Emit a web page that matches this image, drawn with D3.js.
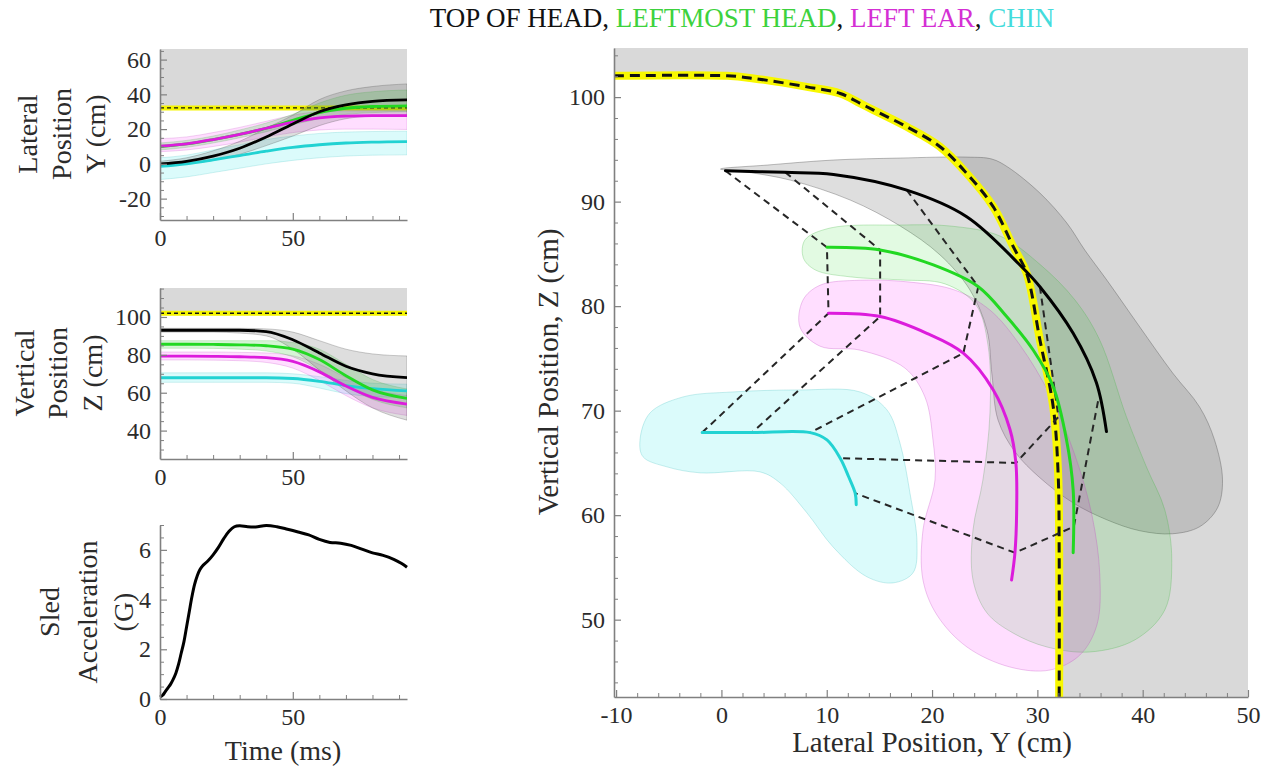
<!DOCTYPE html>
<html><head><meta charset="utf-8">
<script src="https://cdn.jsdelivr.net/npm/d3@7"></script>
<style>
body{margin:0;background:#fff;}
svg{display:block;}
</style></head><body>
<svg id="chart" width="1270" height="776" font-family="Liberation Serif"></svg>
<script>
// ---------------- DATA ----------------
const titleParts = ["TOP OF HEAD", "LEFTMOST HEAD", "LEFT EAR", "CHIN"];
const titleColors = ["#111111", "#3dd23d", "#d42fd4", "#44dcdc"];

// Time series (ms)
const tGrid = [0, 10, 20, 30, 40, 50, 60, 70, 80, 93];
// Lateral position Y (cm)
const blackY   = [0, 1.5, 4.5, 9, 15.5, 23, 30, 34, 36, 36.8];
const blackYlo = [-1, 0, 2, 5.5, 10.5, 16, 22, 26, 27.5, 28];
const blackYhi = [1.5, 3.5, 7.5, 13, 20.5, 28, 37, 42, 44.5, 46];
const greenY   = [10, 11.5, 14, 17, 20.5, 25, 29.5, 32, 33, 33.4];
const greenYlo = [8, 9.5, 12, 15, 18.5, 22.5, 26, 28.5, 29.5, 30];
const greenYhi = [12, 13.5, 16, 19.5, 23.5, 28.5, 35, 39.5, 41.5, 42.5];
const magY     = [10.2, 11.5, 14, 17, 20.5, 24, 26.5, 27.5, 27.8, 27.8];
const magYlo   = [7, 8, 10, 12.5, 15.5, 18, 19.5, 20, 20, 19.8];
const magYhi   = [14.5, 15.5, 18, 21, 24.5, 28, 30, 30.5, 30.5, 30.5];
const cyanY    = [-1.5, 0, 2.3, 4.8, 7.3, 9.5, 11, 12, 12.5, 12.8];
const cyanYlo  = [-9, -7.5, -5, -2.5, 0, 2, 3.5, 4.5, 5, 5.2];
const cyanYhi  = [3.5, 5, 8, 11, 14, 16, 17.5, 18.3, 18.6, 18.8];
// Vertical position Z (cm)
const blackZ   = [93, 93, 93, 93, 92.3, 88, 81, 74, 70, 68];
const blackZlo = [92, 92, 92, 91.5, 90, 83, 72, 61, 52, 45.5];
const blackZhi = [94, 94, 94, 94, 93.7, 92, 87.5, 83, 80.5, 79.4];
const greenZ   = [85.6, 85.6, 85.5, 85.3, 84.8, 83, 77.5, 69, 61.5, 57];
const greenZlo = [83.5, 83.5, 83.4, 83, 82, 79, 72, 63.5, 56.5, 52];
const greenZhi = [87.5, 87.5, 87.5, 87.5, 87.5, 86.5, 83, 75, 67, 62];
const magZ     = [79.3, 79.3, 79.2, 79, 78.5, 76.5, 71, 63.5, 57.5, 54];
const magZlo   = [77.3, 77.3, 77.2, 76.9, 76, 73, 66.5, 58.5, 52, 48];
const magZhi   = [81.5, 81.5, 81.5, 81.3, 81, 79.5, 75, 68, 62, 58.5];
const cyanZ    = [67.9, 67.9, 67.9, 67.9, 67.9, 67.5, 66, 63.8, 62.2, 61];
const cyanZlo  = [65.5, 65.5, 65.5, 65.5, 65.5, 65, 62.5, 59.5, 58, 57.5];
const cyanZhi  = [70.5, 70.5, 70.5, 70.5, 70.5, 70, 68.5, 66.5, 65, 64.5];
// Sled acceleration (G)
const accT = [0,1,2,3,4,5,6,7,8,9,10,11,12,13,14,15,16,18,20,22,24,26,28,30,33,36,40,44,48,52,56,60,64,68,72,76,80,84,88,91,93];
const accG = [0.08,0.15,0.3,0.45,0.6,0.8,1.05,1.4,1.85,2.3,2.9,3.5,4.1,4.6,4.95,5.2,5.35,5.55,5.8,6.1,6.45,6.75,6.93,6.97,6.93,6.92,6.98,6.93,6.83,6.72,6.6,6.42,6.3,6.27,6.18,6.03,5.88,5.78,5.62,5.45,5.3];
const wallLateral = 32.2;   // cm
const wallVertical = 102;   // cm

// Main plot trajectories (Y lateral, Z vertical)
const trajBlackY = [0.38, 6.07, 10.64, 17.6, 23.29, 28.34, 30.24, 33.4, 35.6, 36.56];
const trajBlackZ = [92.95, 92.8, 92.6, 91.1, 88.56, 83.94, 81.86, 77.4, 72.7, 68.0];
const trajGreenY = [10.02, 15.07, 20.12, 24.39, 27.08, 29.6, 31.5, 32.77, 33.4, 33.4];
const trajGreenZ = [85.63, 85.37, 83.94, 81.86, 79.0, 75.8, 72.3, 67.2, 62.4, 56.4];
const trajMagY = [10.17, 15.07, 19.5, 22.97, 25.8, 27.4, 27.96, 28.03, 27.87, 27.55];
const trajMagZ = [79.32, 79.0, 77.4, 75.5, 72.0, 68.2, 65.0, 60.2, 56.4, 53.8];
const trajCyanY = [-1.83, 2.91, 8.44, 10.02, 11.28, 12.07, 12.7, 12.8];
const trajCyanZ = [67.9, 67.9, 67.9, 67.2, 65.45, 63.7, 62.1, 61.0];

// Connectors at five instants: black -> green -> ear -> chin
const connBlackY = [0.38, 6.07, 17.6, 30.24, 35.76];
const connBlackZ = [92.95, 92.8, 91.1, 81.86, 70.9];
const connGreenY = [10.02, 15.07, 24.39, 32.0, 33.46];
const connGreenZ = [85.63, 85.37, 81.86, 69.4, 58.9];
const connMagY = [10.17, 15.07, 22.97, 27.96, 27.87];
const connMagZ = [79.32, 79.0, 75.5, 65.0, 56.4];
const connCyanY = [-1.83, 2.91, 8.44, 11.28, 12.7];
const connCyanZ = [67.9, 67.9, 67.9, 65.45, 62.1];

// Head-form boundary (wall)
const wallY = [-10.2, 0.54, 3.06, 8.12, 11.28, 13.18, 14.44, 17.6, 20.76, 23.29, 25.81, 27.71, 28.98, 30.24, 31.5, 31.97, 32.07, 32.07];
const wallZ = [102.04, 102.04, 101.79, 100.98, 100.35, 99.4, 98.76, 97.16, 95.25, 92.7, 89.51, 85.69, 83.15, 76.77, 70.4, 64.0, 56.4, 42.6];

// Envelopes (outline points)
const envBlackY = [-0.09, 4.36, 10.62, 16.97, 23.32, 25.69, 27.2, 30.24, 32.8, 34.5, 36.59, 39.72, 42.84, 45.4, 46.82, 47.58, 47.11, 45.4, 42.84, 39.72, 36.59, 33.37, 30.24, 27.87, 26.26, 25.69, 25.21, 23.6, 20.76, 16.97, 12.23, 6.54, 2.37];
const envBlackZ = [93.12, 93.5, 93.98, 94.17, 94.26, 94.07, 93.3, 90.82, 87.95, 85.37, 82.5, 78.01, 73.61, 70.36, 67.2, 63.38, 60.71, 58.89, 58.22, 58.51, 59.56, 61.19, 63.58, 66.06, 69.12, 73.42, 77.72, 81.55, 84.9, 87.67, 90.15, 92.06, 92.83];
const envGreenY = [7.93, 10.3, 16.97, 21.7, 26.45, 30.24, 33.56, 35.9, 38.46, 40.36, 42.1, 42.76, 42.1, 39.25, 34.98, 30.9, 27.68, 25.21, 23.89, 23.89, 24.83, 25.5, 25.31, 24.17, 21.23, 16.97, 12.23, 8.9, 7.78];
const envGreenZ = [86.33, 87.47, 87.76, 87.67, 86.71, 84.0, 80.6, 76.8, 69.4, 64.6, 60.5, 55.71, 50.93, 48.06, 46.91, 47.39, 48.73, 50.65, 53.8, 58.59, 63.37, 69.78, 76.29, 80.12, 82.13, 82.51, 82.8, 83.47, 84.62];
const envMagY = [7.46, 7.74, 9.36, 13.16, 17.9, 22.18, 25.5, 28.35, 31.2, 33.56, 35.18, 35.93, 35.65, 34.03, 31.2, 27.4, 23.32, 20.47, 19.14, 19.14, 20.28, 20.09, 19.33, 17.43, 13.16, 9.36];
const envMagZ = [77.99, 80.57, 82.0, 82.48, 82.3, 81.53, 79.62, 76.27, 71.49, 65.75, 60.01, 54.27, 49.48, 46.61, 45.18, 45.47, 47.38, 50.44, 53.79, 58.57, 63.36, 67.18, 71.3, 74.07, 75.79, 76.17];
const envCyanY = [-7.73, -6.78, -3.65, 1.1, 7.46, 13.16, 15.72, 16.95, 17.9, 18.57, 18.19, 16.29, 13.82, 10.59, 8.12, 5.56, 3.66, -2.03, -5.17, -7.44];
const envCyanZ = [67.2, 69.78, 71.31, 71.79, 71.98, 71.79, 70.07, 66.91, 62.13, 57.35, 54.48, 53.52, 54.1, 56.97, 60.22, 63.09, 64.14, 64.05, 64.62, 65.58];

// Tick values
const mainXTicks = [-10, 0, 10, 20, 30, 40, 50];
const mainYTicks = [50, 60, 70, 80, 90, 100];
const latTicks = [-20, 0, 20, 40, 60];
const vertTicks = [40, 60, 80, 100];
const accTicks = [0, 2, 4, 6];
const timeTicks = [0, 50];

// ---------------- STYLE ----------------
const FONT = "Liberation Serif";
const AXIS_COLOR = "#808080", TEXT_COLOR = "#2b2b2b";
const C_BLACK = "#000000", C_GREEN = "#22d822", C_MAG = "#dc1cdc", C_CYAN = "#22d2d2";
const F_GREY = "rgba(90,90,90,0.2)", F_GREEN = "rgba(20,210,20,0.12)", F_MAG = "rgba(255,0,255,0.13)", F_CYAN = "rgba(0,225,225,0.14)";
const S_GREY = "rgba(70,70,70,0.35)", S_GREEN = "rgba(60,180,60,0.28)", S_MAG = "rgba(190,60,190,0.28)", S_CYAN = "rgba(60,190,190,0.28)";
const BG_GREY = "#d9d9d9";

const svg = d3.select("#chart");
svg.append("rect").attr("width", 1270).attr("height", 776).attr("fill", "#fff");
const defs = svg.append("defs");
let clipId = 0;
function clip(x0, y0, w, h) {
  const id = "clip" + (clipId++);
  defs.append("clipPath").attr("id", id).append("rect").attr("x", x0).attr("y", y0).attr("width", w).attr("height", h);
  return "url(#" + id + ")";
}
const zip = (a, b) => a.map((v, i) => [v, b[i]]);
const fmt = d => String(d);

function drawAxes(x, y, xTicks, xMinor, yTicks, yMinor, fs) {
  const x0 = x.range()[0], y0 = y.range()[0];
  const gxm = svg.append("g").attr("transform", `translate(0,${y0})`)
    .call(d3.axisBottom(x).tickValues(xMinor).tickSizeInner(-4).tickSizeOuter(0).tickFormat(""));
  gxm.select(".domain").remove(); gxm.selectAll("line").attr("stroke", AXIS_COLOR);
  const gym = svg.append("g").attr("transform", `translate(${x0},0)`)
    .call(d3.axisLeft(y).tickValues(yMinor).tickSizeInner(-4).tickSizeOuter(0).tickFormat(""));
  gym.select(".domain").remove(); gym.selectAll("line").attr("stroke", AXIS_COLOR);
  const gx = svg.append("g").attr("transform", `translate(0,${y0})`)
    .call(d3.axisBottom(x).tickValues(xTicks).tickSizeInner(-7).tickSizeOuter(0).tickPadding(9).tickFormat(fmt));
  const gy = svg.append("g").attr("transform", `translate(${x0},0)`)
    .call(d3.axisLeft(y).tickValues(yTicks).tickSizeInner(-7).tickSizeOuter(0).tickPadding(9).tickFormat(fmt));
  [gx, gy].forEach(g => {
    g.attr("font-size", fs).attr("font-family", FONT);
    g.select(".domain").attr("stroke", AXIS_COLOR).attr("stroke-width", 1.6);
    g.selectAll(".tick line").attr("stroke", AXIS_COLOR).attr("stroke-width", 1.2);
    g.selectAll(".tick text").attr("fill", TEXT_COLOR)
      .attr("font-family", FONT).style("font-family", FONT).style("font-size", fs + "px");
  });
}
function rotLabel(lines, xs, cy, fs) {
  lines.forEach((s, i) => {
    svg.append("text").attr("transform", `translate(${xs[i] + 0.33 * fs},${cy}) rotate(-90)`)
      .attr("text-anchor", "middle").attr("font-size", fs).attr("fill", TEXT_COLOR).style("font-family", FONT).text(s);
  });
}

// ---------------- TITLE ----------------
const title = svg.append("text").attr("x", 742).attr("y", 27).attr("text-anchor", "middle").attr("font-size", 27).style("font-family", FONT);
titleParts.forEach((p, i) => {
  title.append("tspan").attr("fill", titleColors[i]).text(p);
  if (i < titleParts.length - 1) title.append("tspan").attr("fill", "#111").text(", ");
});

// ---------------- LEFT PANELS ----------------
const tx = d3.scaleLinear().domain([0, 93]).range([160, 407]);
const timeMinor = [10, 20, 30, 40, 60, 70, 80, 90];

function bandPanel(y, sets, wallVal) {
  const [x0, x1] = tx.range(), [yb, yt] = y.range();
  const g = svg.append("g").attr("clip-path", clip(x0, yt, x1 - x0, yb - yt));
  g.append("rect").attr("x", x0).attr("y", yt).attr("width", x1 - x0).attr("height", y(wallVal) - yt).attr("fill", BG_GREY);
  g.append("line").attr("x1", x0).attr("x2", x1).attr("y1", y(wallVal)).attr("y2", y(wallVal)).attr("stroke", "#f5f500").attr("stroke-width", 5);
  g.append("line").attr("x1", x0).attr("x2", x1).attr("y1", y(wallVal)).attr("y2", y(wallVal)).attr("stroke", "#111").attr("stroke-width", 1.4).attr("stroke-dasharray", "4,3");
  const area = d3.area().curve(d3.curveMonotoneX).x(d => tx(d.t)).y0(d => y(d.lo)).y1(d => y(d.hi));
  const line = d3.line().curve(d3.curveMonotoneX).x(d => tx(d.t)).y(d => y(d.v));
  sets.forEach(s => {
    const data = tGrid.map((t, i) => ({t, lo: s.lo[i], hi: s.hi[i]}));
    g.append("path").attr("d", area(data)).attr("fill", s.fill).attr("stroke", s.stroke).attr("stroke-width", 0.8);
  });
  sets.slice().sort((a, b) => a.order - b.order).forEach(s => {
    const data = tGrid.map((t, i) => ({t, v: s.v[i]}));
    g.append("path").attr("d", line(data)).attr("fill", "none").attr("stroke", s.color).attr("stroke-width", 2.8);
  });
}

// Top: lateral
const yLat = d3.scaleLinear().domain([-32.3, 66.1]).range([220, 49]);
bandPanel(yLat, [
  {v: cyanY, lo: cyanYlo, hi: cyanYhi, fill: F_CYAN, stroke: S_CYAN, color: C_CYAN, order: 0},
  {v: magY, lo: magYlo, hi: magYhi, fill: F_MAG, stroke: S_MAG, color: C_MAG, order: 2},
  {v: greenY, lo: greenYlo, hi: greenYhi, fill: "rgba(20,200,20,0.18)", stroke: S_GREEN, color: C_GREEN, order: 1},
  {v: blackY, lo: blackYlo, hi: blackYhi, fill: F_GREY, stroke: S_GREY, color: C_BLACK, order: 3}
], wallLateral);
drawAxes(tx, yLat, timeTicks, timeMinor, latTicks, [-30, -25, -15, -10, -5, 5, 10, 15, 25, 30, 35, 45, 50, 55, 65], 24);
rotLabel(["Lateral", "Position", "Y (cm)"], [28, 62, 96], 134, 28);

// Middle: vertical
const yVert = d3.scaleLinear().domain([25, 115.3]).range([459, 288]);
bandPanel(yVert, [
  {v: cyanZ, lo: cyanZlo, hi: cyanZhi, fill: F_CYAN, stroke: S_CYAN, color: C_CYAN, order: 0},
  {v: magZ, lo: magZlo, hi: magZhi, fill: F_MAG, stroke: S_MAG, color: C_MAG, order: 2},
  {v: greenZ, lo: greenZlo, hi: greenZhi, fill: "rgba(20,200,20,0.18)", stroke: S_GREEN, color: C_GREEN, order: 1},
  {v: blackZ, lo: blackZlo, hi: blackZhi, fill: F_GREY, stroke: S_GREY, color: C_BLACK, order: 3}
], wallVertical);
drawAxes(tx, yVert, timeTicks, timeMinor, vertTicks, [30, 35, 45, 50, 55, 65, 70, 75, 85, 90, 95, 105, 110, 115], 24);
rotLabel(["Vertical", "Position", "Z (cm)"], [25, 58, 93], 373, 28);

// Bottom: acceleration
const yAcc = d3.scaleLinear().domain([0, 7]).range([699, 525]);
svg.append("path").attr("d", d3.line().curve(d3.curveCatmullRom).x(d => tx(d[0])).y(d => yAcc(d[1]))(zip(accT, accG)))
  .attr("fill", "none").attr("stroke", "#000").attr("stroke-width", 3);
drawAxes(tx, yAcc, timeTicks, timeMinor, accTicks, [0.5, 1, 1.5, 2.5, 3, 3.5, 4.5, 5, 5.5, 6.5, 7], 24);
rotLabel(["Sled", "Acceleration", "(G)"], [50, 88, 124], 612, 28);
svg.append("text").attr("x", 283).attr("y", 760).attr("text-anchor", "middle").attr("font-size", 28).attr("fill", TEXT_COLOR).style("font-family", FONT).text("Time (ms)");

// ---------------- MAIN PLOT ----------------
const mx = d3.scaleLinear().domain([-10.2, 50]).range([614, 1248]);
const my = d3.scaleLinear().domain([42.6, 104.7]).range([697, 48]);
const mg = svg.append("g").attr("clip-path", clip(614, 48, 634, 649));
const pt = d => [mx(d[0]), my(d[1])];
const wallPts = zip(wallY, wallZ).map(pt);
const wallLine = d3.line().curve(d3.curveCatmullRom.alpha(0.5));
mg.append("path").attr("d", wallLine(wallPts) + `L${mx(50)},${my(42.6)}L${mx(50)},${my(104.7)}L${mx(-10.2)},${my(104.7)}Z`).attr("fill", BG_GREY);

const closed = d3.line().curve(d3.curveCatmullRomClosed.alpha(0.5));
[[envBlackY, envBlackZ, F_GREY, S_GREY], [envGreenY, envGreenZ, F_GREEN, S_GREEN],
 [envMagY, envMagZ, F_MAG, S_MAG], [envCyanY, envCyanZ, F_CYAN, S_CYAN]].forEach(([a, b, f, s]) => {
  mg.append("path").attr("d", closed(zip(a, b).map(pt))).attr("fill", f).attr("stroke", s).attr("stroke-width", 1);
});

mg.append("path").attr("d", wallLine(wallPts)).attr("fill", "none").attr("stroke", "#f8f800").attr("stroke-width", 8);
mg.append("path").attr("d", wallLine(wallPts)).attr("fill", "none").attr("stroke", "#111").attr("stroke-width", 3).attr("stroke-dasharray", "10,6");

connBlackY.forEach((_, i) => {
  const pts = [[connBlackY[i], connBlackZ[i]], [connGreenY[i], connGreenZ[i]], [connMagY[i], connMagZ[i]], [connCyanY[i], connCyanZ[i]]].map(pt);
  mg.append("path").attr("d", d3.line()(pts)).attr("fill", "none").attr("stroke", "#262626").attr("stroke-width", 2).attr("stroke-dasharray", "7,5");
});

const trajLine = d3.line().curve(d3.curveCatmullRom.alpha(0.5));
[[trajCyanY, trajCyanZ, C_CYAN], [trajMagY, trajMagZ, C_MAG], [trajGreenY, trajGreenZ, C_GREEN], [trajBlackY, trajBlackZ, C_BLACK]].forEach(([a, b, c]) => {
  mg.append("path").attr("d", trajLine(zip(a, b).map(pt))).attr("fill", "none").attr("stroke", c).attr("stroke-width", 3).attr("stroke-linecap", "round");
});

const mxMinor = d3.range(-10, 51, 2).filter(v => v % 10 !== 0);
const myMinor = d3.range(44, 105, 2).filter(v => v % 10 !== 0);
drawAxes(mx, my, mainXTicks, mxMinor, mainYTicks, myMinor, 24);
svg.append("text").attr("x", 932).attr("y", 752).attr("text-anchor", "middle").attr("font-size", 29).attr("fill", TEXT_COLOR).style("font-family", FONT).text("Lateral Position, Y (cm)");
svg.append("text").attr("transform", `translate(${548 + 0.33 * 29},372) rotate(-90)`).attr("text-anchor", "middle").attr("font-size", 29).attr("fill", TEXT_COLOR).style("font-family", FONT).text("Vertical Position, Z (cm)");
</script></body></html>
